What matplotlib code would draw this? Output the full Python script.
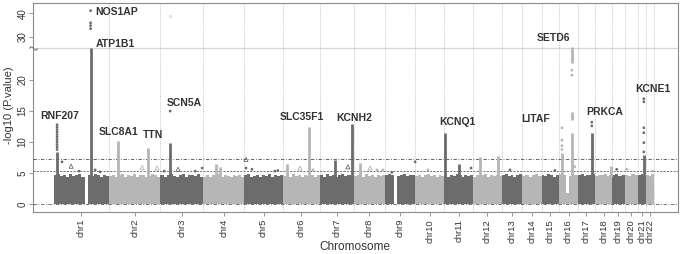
import numpy as np
import matplotlib
matplotlib.use("Agg")
import matplotlib.pyplot as plt
from matplotlib.path import Path
from matplotlib.transforms import blended_transform_factory

plt.rcParams["font.family"] = ["Liberation Sans", "DejaVu Sans"]

CHROMS = [f"chr{i}" for i in range(1, 23)]

# plotted extent of each chromosome in Mb (first to last marker)
chrom_span = [255, 240, 199, 191, 179, 172, 158, 147, 140, 135, 133, 134,
              95, 90, 83, 86, 80, 80, 58, 62, 38, 36]

# top of the dense cloud of non-significant markers, evenly spread over each chromosome
band_top = [
    [4.6, 4.9, 4.5, 4.7, 4.4, 4.8, 4.5, 4.6, 4.9, 4.4, 0.0, 4.7, 4.5, 4.8, 4.6, 4.4, 4.7, 4.5],
    [4.5, 4.7, 4.3, 4.6, 4.8, 4.4, 4.6, 4.5, 4.9, 4.3, 4.6, 4.7, 4.4, 4.5, 4.8, 4.6, 4.4],
    [4.7, 4.4, 4.6, 4.9, 4.5, 4.3, 4.6, 4.8, 4.4, 4.6, 4.7, 4.5, 4.8, 4.4],
    [4.4, 4.6, 4.3, 4.7, 4.5, 4.8, 4.4, 4.6, 4.5, 4.3, 4.7, 4.5, 4.6, 4.4],
    [4.6, 4.8, 4.4, 4.5, 4.7, 4.3, 4.6, 4.5, 4.8, 4.4, 4.6, 4.5, 4.7],
    [4.5, 4.7, 4.4, 4.8, 4.5, 4.6, 4.3, 4.7, 4.5, 4.6, 4.4, 4.6],
    [4.6, 4.4, 4.8, 4.5, 4.7, 4.4, 4.6, 4.9, 4.5, 4.6, 4.4],
    [4.5, 4.7, 4.6, 4.4, 4.8, 4.5, 4.6, 4.4, 4.7, 4.5, 4.6],
    [4.6, 4.8, 4.7, 0.0, 4.5, 4.6, 4.9, 4.5, 4.7, 4.6],
    [4.5, 4.7, 4.4, 4.6, 4.8, 4.5, 4.6, 4.4, 4.7, 4.5],
    [4.6, 4.4, 4.7, 4.5, 4.8, 4.6, 4.4, 4.7, 4.5, 4.6],
    [4.4, 4.7, 4.5, 4.6, 4.8, 4.4, 4.6, 4.5, 4.7, 4.5],
    [4.6, 4.8, 4.5, 4.7, 4.4, 4.6, 4.8],
    [4.5, 4.7, 4.4, 4.6, 4.8, 4.5],
    [4.7, 4.5, 4.8, 4.6, 4.4, 4.7],
    [4.8, 4.6, 1.8, 4.5, 4.7, 4.6],
    [4.6, 4.8, 4.5, 4.7, 4.6, 4.8],
    [4.5, 4.7, 4.6, 4.8, 4.5, 4.6],
    [4.6, 4.8, 4.5, 4.7],
    [4.7, 4.5, 4.8, 4.6],
    [4.6, 4.8, 4.5],
    [4.7, 4.5, 4.8],
]

# dense columns of associated markers: chromosome, position (Mb), lowest and highest -log10 p
col_chrom = [1, 1, 2, 2, 3, 4, 4, 6, 6, 7, 7, 8, 11, 11, 12, 12, 16, 16, 16, 16, 17, 18, 21]
col_pos = [14, 170, 43, 182, 45, 58, 80, 20, 122, 71, 150, 29, 3, 68, 33, 116, 12, 58, 58, 58, 65, 73, 27]
col_low = [4.4, 4.4, 4.4, 4.4, 4.4, 4.4, 4.4, 4.4, 4.4, 4.4, 4.4, 4.4, 4.4, 4.4, 4.4, 4.4,
           4.4, 4.4, 13.6, 22.8, 4.4, 4.4, 4.4]
col_high = [8.4, 25.2, 10.2, 9.1, 9.8, 6.5, 6.0, 6.4, 12.5, 7.1, 12.9, 6.6, 11.5, 6.4, 7.6, 7.8,
            8.2, 11.5, 14.9, 25.4, 11.5, 6.1, 7.9]

# single markers (circles)
dot_chrom = [1, 1, 1, 1, 1, 1, 1, 1, 1, 1, 1, 1, 1, 1, 1, 1, 1, 1, 1,
             3, 3, 3, 3, 5, 5, 5, 5, 6, 8, 8, 9, 9, 10, 11, 13, 15,
             16, 16, 16, 16, 16, 16, 16, 17, 17, 19, 20,
             21, 21, 21, 21, 21, 21, 22]
dot_pos = [14, 14, 14, 14, 14, 14, 14, 14, 14, 14, 14, 37, 116, 191, 214, 170, 170, 170, 170,
           17, 162, 194, 45, 8, 36, 142, 156, 140, 109, 136, 31, 139, 59, 124, 38, 62,
           12, 12, 12, 12, 58, 58, 72, 65, 65, 21, 10,
           27, 27, 27, 27, 27, 27, 31]
dot_val = [8.8, 9.2, 9.6, 10.0, 10.4, 10.8, 11.2, 11.6, 12.0, 12.4, 12.8, 6.8, 5.3, 5.5, 5.2,
           33.5, 34.8, 36.0, 41.2,
           5.3, 5.3, 5.8, 15.0, 5.8, 5.6, 5.3, 5.4, 5.5, 5.5, 5.5, 5.1, 6.8, 5.5, 5.8, 5.5, 5.4,
           8.8, 9.4, 10.3, 12.3, 20.8, 21.6, 6.0, 12.6, 13.2, 5.6, 5.6,
           8.4, 9.9, 11.5, 12.3, 16.5, 17.0, 5.3]

# single markers (triangles)
tri_chrom = [1, 2, 2, 3, 5, 6, 7, 8]
tri_pos = [79, 155, 224, 82, 8, 80, 131, 76]
tri_val = [6.1, 5.9, 5.8, 5.6, 7.2, 5.8, 6.0, 5.8]

# faint marker in the upper panel
faint_chrom = [3]
faint_pos = [45]
faint_val = [38.9]

genes = ["RNF207", "NOS1AP", "ATP1B1", "SLC8A1", "TTN", "SCN5A", "SLC35F1",
         "KCNH2", "KCNQ1", "LITAF", "SETD6", "PRKCA", "KCNE1"]
# label anchor (left, centre) on the cumulative Mb / -log10 p axes
gene_x = [-65, 191, 195, 209, 414, 526, 1051, 1312, 1791, 2172, 2247, 2474, 2702]
gene_y = [14.2, 40.7, 26.9, 11.6, 11.1, 16.3, 14.1, 13.9, 13.2, 13.7, 29.5, 14.9, 18.6]

DARK = "#6c6c6c"
LIGHT = "#b6b6b6"
TEXT = "#333333"
BREAK = 25.2
SQUEEZE = 0.376


def fwd(y):
    y = np.asarray(y, dtype=float)
    return np.where(y <= BREAK, y, BREAK + (y - BREAK) * SQUEEZE)


def inv(y):
    y = np.asarray(y, dtype=float)
    return np.where(y <= BREAK, y, BREAK + (y - BREAK) / SQUEEZE)


starts = np.concatenate([[0], np.cumsum(chrom_span)[:-1]])
ends = starts + np.array(chrom_span)
centers = (starts + ends) / 2


def chrom_color(c):
    return DARK if c % 2 == 1 else LIGHT


def xpos(chroms, pos):
    return np.array([starts[c - 1] + p for c, p in zip(chroms, pos)])


fig = plt.figure(figsize=(6.85, 2.54), dpi=100)
ax = fig.add_axes([33 / 685, 1 - 212 / 254, 645 / 685, 209 / 254])
ax.set_yscale("function", functions=(fwd, inv))
ax.set_xlim(-98, 2903)
ax.set_ylim(-1.3, 44.5)

# chromosome boundaries
for e in ends:
    ax.axvline(e, color="#c4c4c4", lw=0.7, ls=(0, (1, 1.2)), zorder=1)

# axis break line
ax.axhline(BREAK, color="#d6d6d6", lw=0.9, zorder=1)

# background clouds
for i, tops in enumerate(band_top):
    edges = np.linspace(starts[i], ends[i], len(tops) + 1)
    ax.stairs(tops, edges, baseline=0, fill=True, color=chrom_color(i + 1), lw=0, zorder=2)

# significance thresholds
ax.axhline(7.3, color="#4a4a4a", lw=0.6, ls=(0, (4, 2, 1, 2)), zorder=3)
ax.axhline(5.3, color="#5a5a5a", lw=0.6, ls=(0, (2.5, 1.5)), zorder=3)
ax.axhline(0, color="#5a5a5a", lw=0.6, ls=(0, (4, 2, 1, 2)), zorder=3)

# associated loci
cx = xpos(col_chrom, col_pos)
ax.vlines(cx, col_low, col_high, colors=[chrom_color(c) for c in col_chrom], lw=2.0, zorder=4)

dx = xpos(dot_chrom, dot_pos)
ax.scatter(dx, dot_val, s=4, c=[chrom_color(c) for c in dot_chrom], lw=0, zorder=4)

tx = xpos(tri_chrom, tri_pos)
ax.scatter(tx, tri_val, s=9, marker="^", facecolors="none",
           edgecolors=[chrom_color(c) for c in tri_chrom], lw=0.6, zorder=4)

fx = xpos(faint_chrom, faint_pos)
ax.scatter(fx, faint_val, s=6, c="#e4e4e4", lw=0, zorder=4)

for g, gx, gy in zip(genes, gene_x, gene_y):
    ax.text(gx, gy, g, ha="left", va="center", fontsize=7.5, fontweight="bold",
            color=TEXT, zorder=5)

# break mark on the y axis
tilde = Path([(-1, 0), (-0.6, 0.4), (-0.2, 0.25), (0.2, -0.25), (0.6, -0.4), (1, 0)])
bt = blended_transform_factory(ax.transAxes, ax.transData)
ax.plot([0], [BREAK], marker=tilde, ms=6, mfc="none", mec="#777777", mew=0.8,
        transform=bt, clip_on=False, zorder=6)

ax.set_xticks(centers)
ax.set_xticklabels(CHROMS, rotation=90, fontsize=6.8, color=TEXT)
ax.set_yticks([0, 5, 10, 15, 20, 30, 40])
ax.set_yticklabels(["0", "5", "10", "15", "20", "30", "40"], rotation=90,
                   va="center", fontsize=7, color=TEXT)
ax.tick_params(axis="both", length=3, width=0.6, color="#888888", pad=2)
ax.tick_params(axis="y", pad=1)

for s in ax.spines.values():
    s.set_color("#8c8c8c")
    s.set_linewidth(0.8)

fig.text(355 / 685, 1 - 247 / 254, "Chromosome", ha="center", va="center",
         fontsize=8.5, color=TEXT)
fig.text(9 / 685, 1 - 105 / 254, "-log10 (P.value)", ha="center", va="center",
         rotation=90, fontsize=8, color=TEXT)

fig.savefig("out.png", dpi=100)
